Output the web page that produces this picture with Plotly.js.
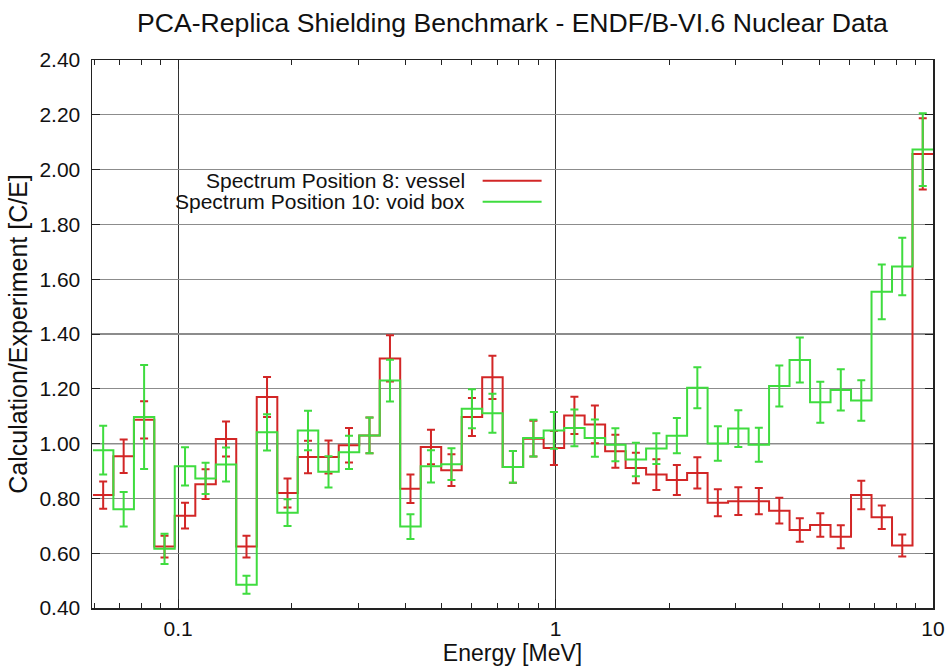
<!DOCTYPE html>
<html>
<head>
<meta charset="utf-8">
<script src="https://cdn.plot.ly/plotly-3.0.1.min.js"></script>
<style>html,body{margin:0;padding:0;background:#fff;}#chart{width:950px;height:668px;}</style>
</head>
<body>
<div id="chart"></div>
<script>
// Energy group boundaries [MeV], ascending (42 edges -> 41 groups)
const edges = [0.0595, 0.0674, 0.0764, 0.0865, 0.0980, 0.1111, 0.1259, 0.1426, 0.1616, 0.1832,
  0.2075, 0.2352, 0.2665, 0.3020, 0.3422, 0.3877, 0.4394, 0.4979, 0.5642, 0.6393,
  0.7244, 0.8208, 0.9301, 1.0540, 1.1943, 1.3534, 1.5335, 1.7377, 1.9691, 2.2313,
  2.5284, 2.8650, 3.2465, 3.6788, 4.1686, 4.7237, 5.3526, 6.0653, 6.8729, 7.7880,
  8.8250, 10.0];

const seriesNames = ["Spectrum Position 8: vessel", "Spectrum Position 10: void box"];

// C/E ratios per group
const vessel = [0.812, 0.954, 1.087, 0.624, 0.737, 0.852, 1.017, 0.624, 1.170, 0.820,
  0.951, 0.951, 0.994, 1.030, 1.311, 0.835, 0.988, 0.903, 1.097, 1.242,
  0.915, 1.018, 0.984, 1.103, 1.070, 0.972, 0.911, 0.887, 0.867, 0.893,
  0.784, 0.790, 0.790, 0.755, 0.685, 0.703, 0.660, 0.812, 0.731, 0.628,
  2.057];
const vesselErr = [0.050, 0.061, 0.068, 0.040, 0.047, 0.054, 0.064, 0.040, 0.073, 0.053,
  0.059, 0.060, 0.063, 0.065, 0.084, 0.052, 0.063, 0.058, 0.069, 0.079,
  0.058, 0.065, 0.062, 0.068, 0.069, 0.060, 0.056, 0.056, 0.055, 0.057,
  0.049, 0.051, 0.048, 0.047, 0.043, 0.043, 0.042, 0.052, 0.043, 0.040,
  0.130];

const voidBox = [0.976, 0.760, 1.097, 0.616, 0.917, 0.873, 0.924, 0.485, 1.041, 0.748,
  1.048, 0.897, 0.968, 1.030, 1.230, 0.697, 0.917, 0.925, 1.127, 1.111,
  0.915, 1.020, 1.048, 1.057, 1.020, 0.996, 0.942, 0.982, 1.029, 1.204,
  1.000, 1.055, 0.996, 1.210, 1.305, 1.151, 1.196, 1.157, 1.554, 1.646,
  2.073];
const voidBoxErr = [0.089, 0.063, 0.190, 0.055, 0.070, 0.057, 0.062, 0.033, 0.066, 0.049,
  0.072, 0.057, 0.061, 0.065, 0.076, 0.045, 0.059, 0.058, 0.071, 0.071,
  0.058, 0.067, 0.067, 0.067, 0.068, 0.060, 0.061, 0.056, 0.064, 0.075,
  0.063, 0.067, 0.062, 0.075, 0.082, 0.075, 0.075, 0.074, 0.100, 0.105,
  0.133];

const yTicks = [0.4, 0.6, 0.8, 1.0, 1.2, 1.4, 1.6, 1.8, 2.0, 2.2, 2.4];
const xTicks = [0.1, 1, 10];
const xTickText = ["0.1", "1", "10"];
const xMinor = [0.06, 0.07, 0.08, 0.09, 0.2, 0.3, 0.4, 0.5, 0.6, 0.7, 0.8, 0.9,
  2, 3, 4, 5, 6, 7, 8, 9];

const RED = '#d22626';
const GREEN = '#3fdc3f';

const centers = edges.slice(0, -1).map((e, i) => Math.sqrt(e * edges[i + 1]));

function stepTrace(vals, color) {
  return {
    x: edges.slice(),
    y: vals.concat([vals[vals.length - 1]]),
    type: 'scatter', mode: 'lines',
    line: {shape: 'hv', color: color, width: 2},
    showlegend: false, hoverinfo: 'skip'
  };
}
function errTrace(vals, errs, color) {
  return {
    x: centers, y: vals,
    type: 'scatter', mode: 'markers',
    marker: {size: 1, color: color, opacity: 0},
    error_y: {type: 'data', array: errs, visible: true, color: color, thickness: 2, width: 4},
    showlegend: false, hoverinfo: 'skip'
  };
}

const data = [
  stepTrace(vessel, RED),
  errTrace(vessel, vesselErr, RED),
  stepTrace(voidBox, GREEN),
  errTrace(voidBox, voidBoxErr, GREEN)
];

const FONT = 'Liberation Sans, Arial, Helvetica, sans-serif';

// legend placement (paper coords)
const legTextX = 0.4455, legLine0 = 0.4645, legLine1 = 0.5346;
const legY = [0.7797, 0.7414];
const colors = [RED, GREEN];

const annotations = seriesNames.map((n, i) => ({
  text: n, xref: 'paper', yref: 'paper', x: legTextX, y: legY[i],
  xanchor: 'right', yanchor: 'middle', showarrow: false,
  font: {family: FONT, size: 21, color: '#111'}
}));

const shapes = [
  {type: 'rect', xref: 'paper', yref: 'paper', x0: 0.093, x1: 0.544, y0: 0.722, y1: 0.797,
   fillcolor: '#ffffff', line: {width: 0}, layer: 'below'},
  {type: 'line', xref: 'paper', yref: 'y', x0: 0, x1: 1, y0: 1, y1: 1,
   line: {color: '#222', width: 1.3}, layer: 'below'}
].concat(seriesNames.map((n, i) => ({
  type: 'line', xref: 'paper', yref: 'paper', x0: legLine0, x1: legLine1, y0: legY[i], y1: legY[i],
  line: {color: colors[i], width: 2}
})));

const layout = {
  width: 950, height: 668,
  margin: {l: 92, r: 17, t: 60, b: 60},
  paper_bgcolor: '#ffffff', plot_bgcolor: '#ffffff',
  font: {family: FONT, size: 21, color: '#111'},
  title: {text: 'PCA-Replica Shielding Benchmark - ENDF/B-VI.6 Nuclear Data',
    font: {family: FONT, size: 26.6, color: '#111'}, x: 0.5, xref: 'paper', y: 0.966, yanchor: 'middle'},
  xaxis: {
    type: 'log', range: [-1.228, 1],
    tickmode: 'array', tickvals: xTicks, ticktext: xTickText,
    ticks: 'inside', ticklen: 9, tickwidth: 1, tickcolor: '#222',
    showgrid: true, gridcolor: '#333', gridwidth: 1,
    minor: {tickmode: 'array', tickvals: xMinor, ticks: 'inside', ticklen: 5, tickcolor: '#222', showgrid: false},
    showline: true, linecolor: '#222', linewidth: 1.5, mirror: 'allticks',
    zeroline: false, ticklabelstandoff: 1,
    title: {text: 'Energy [MeV]', font: {family: FONT, size: 23, color: '#111'}, standoff: 6}
  },
  yaxis: {
    range: [0.4, 2.4], tickmode: 'array', tickvals: yTicks, tickformat: '.2f',
    ticks: 'inside', ticklen: 8, tickcolor: '#222',
    showgrid: true, gridcolor: '#8c8c8c', gridwidth: 1.2,
    showline: true, linecolor: '#222', linewidth: 1.5, mirror: 'allticks',
    zeroline: false, ticklabelstandoff: 6,
    title: {text: 'Calculation/Experiment [C/E]', font: {family: FONT, size: 25, color: '#111'}, standoff: 4}
  },
  annotations: annotations,
  shapes: shapes
};

Plotly.newPlot('chart', data, layout, {displayModeBar: false, staticPlot: true});
</script>
</body>
</html>
